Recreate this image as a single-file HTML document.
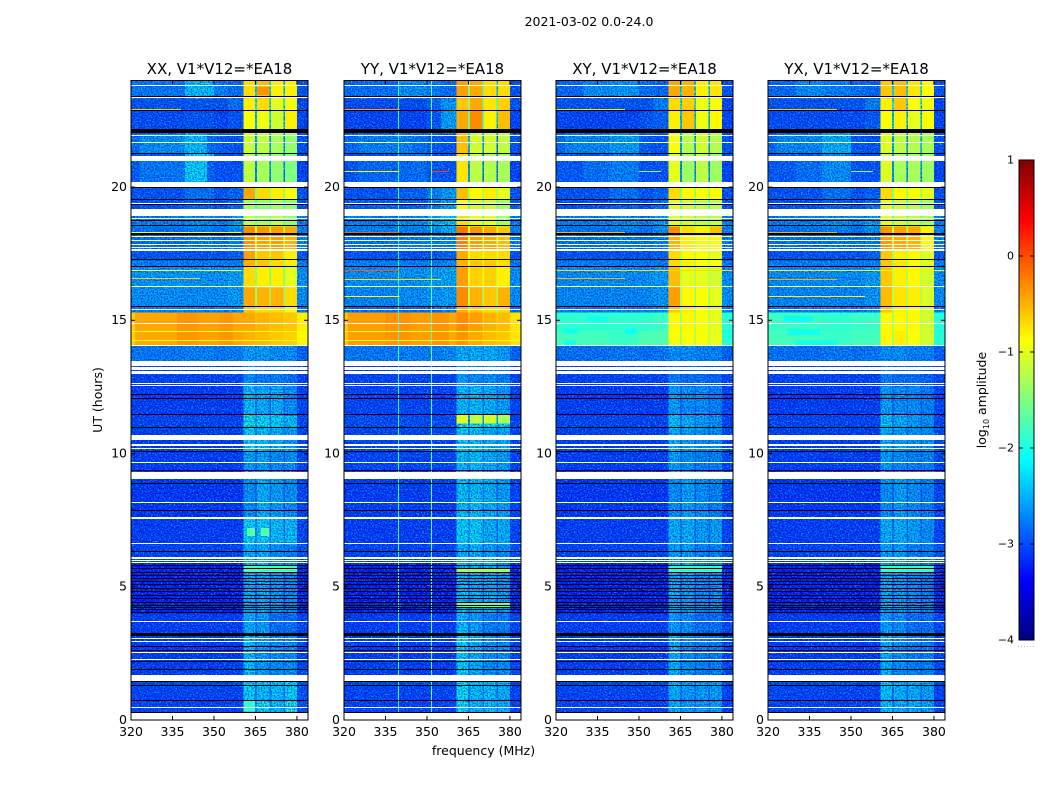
<!DOCTYPE html>
<html>
<head>
<meta charset="utf-8">
<title>2021-03-02 amplitude waterfall</title>
<style>
html,body{margin:0;padding:0;background:#fff;}
svg{display:block;font-family:"DejaVu Sans","Liberation Sans",sans-serif;}
text{fill:#000;}
</style>
</head>
<body>
<svg id="fig" xmlns="http://www.w3.org/2000/svg" width="1050" height="800" viewBox="0 0 1050 800">
<defs id="defs">
<filter id="speckle-light" x="0" y="0" width="100%" height="100%">
<feTurbulence type="fractalNoise" baseFrequency="0.62 0.75" numOctaves="1" seed="7"/>
<feColorMatrix type="matrix" values="0 0 0 0 0  0 0 0 0 0.85  0 0 0 0 0.9  3 0 0 0 -1.3"/>
</filter>
<filter id="speckle-dark" x="0" y="0" width="100%" height="100%">
<feTurbulence type="fractalNoise" baseFrequency="0.7 0.66" numOctaves="1" seed="23"/>
<feColorMatrix type="matrix" values="0 0 0 0 0  0 0 0 0 0  0 0 0 0 0.5  3 0 0 0 -1.15"/>
</filter>
</defs>
<rect x="0" y="0" width="1050" height="800" fill="#fff"/>
<text x="589" y="26" font-size="12.5" text-anchor="middle">2021-03-02 0.0-24.0</text>
<text x="483.5" y="755" font-size="12.5" text-anchor="middle">frequency (MHz)</text>
<text x="102" y="400" font-size="12.5" text-anchor="middle" transform="rotate(-90 102 400)">UT (hours)</text>
<text x="986" y="400" font-size="12.5" text-anchor="middle" transform="rotate(-90 986 400)">log<tspan font-size="8" dy="3">10</tspan><tspan dy="-3"> amplitude</tspan></text>
<g id="panels"></g>
<g id="colorbar"></g>
</svg>
<script>
// ---------- Data ----------
const panelTitles = ['XX, V1*V12=*EA18', 'YY, V1*V12=*EA18', 'XY, V1*V12=*EA18', 'YX, V1*V12=*EA18'];
const xTickLabels = [320, 335, 350, 365, 380];
const yTickLabels = [0, 5, 10, 15, 20];
const colorbarTicks = [1, 0, -1, -2, -3, -4];

// frequency column edges (MHz)
const freqEdges = [320, 339.5, 350, 355, 360.6, 364.9, 365.5, 370, 370.6, 375.1, 375.7, 380, 384];
// time band edges (UT hours), bottom to top
const utEdges = [0.27, 1.46, 3.15, 4.0, 5.88, 6.59, 7.56, 9.03, 10.07, 10.94, 11.46, 12.53, 13.47, 14.05, 14.6, 15.3, 15.5, 16.24, 17.0, 17.25, 17.62, 18.22, 18.53, 19.17, 19.53, 20.0, 21.25, 22.02, 22.17, 22.85, 23.33, 24];

// log10 amplitude: one row per time band, one value per frequency column
const xxValues = [
[-3.1,-3.1,-3.1,-3.1,-2.2,-2.7,-2.3,-2.8,-2.3,-2.8,-2.2,-3.0],
[-3.15,-3.15,-3.15,-3.15,-2.3,-2.8,-2.5,-3.0,-2.6,-3.0,-2.6,-3.1],
[-3.15,-3.15,-3.15,-3.15,-2.4,-2.8,-2.5,-3.0,-2.8,-3.0,-2.8,-3.1],
[-3.35,-3.35,-3.35,-3.35,-2.4,-2.9,-2.4,-3.1,-2.5,-3.1,-2.6,-3.3],
[-3.1,-3.1,-3.1,-3.1,-2.4,-2.8,-2.4,-3.0,-2.6,-3.0,-2.7,-3.0],
[-3.15,-3.15,-3.15,-3.15,-2.2,-2.7,-2.2,-2.8,-2.3,-2.8,-2.3,-3.1],
[-3.2,-3.2,-3.2,-3.2,-2.6,-2.9,-2.4,-2.9,-2.5,-3.0,-2.6,-3.1],
[-3.15,-3.15,-3.15,-3.15,-2.5,-2.9,-2.5,-3.0,-2.6,-3.0,-2.6,-3.1],
[-3.15,-3.15,-3.15,-3.15,-2.2,-2.8,-2.3,-2.8,-2.4,-2.9,-2.5,-3.1],
[-3.1,-3.1,-3.1,-3.1,-2.0,-2.6,-2.1,-2.7,-2.2,-2.7,-2.3,-3.1],
[-3.15,-3.15,-3.15,-3.15,-2.3,-2.8,-2.4,-2.9,-2.4,-2.9,-2.6,-3.1],
[-3.1,-3.1,-3.1,-3.1,-2.6,-2.9,-2.7,-2.9,-2.7,-2.9,-2.8,-3.1],
[-2.75,-2.7,-2.75,-2.7,-2.5,-2.7,-2.5,-2.7,-2.6,-2.7,-2.6,-2.9],
[-0.45,-0.42,-0.42,-0.45,-0.5,-0.55,-0.55,-0.6,-0.6,-0.65,-0.65,-0.85],
[-0.45,-0.42,-0.42,-0.45,-0.45,-0.55,-0.5,-0.6,-0.55,-0.65,-0.6,-0.8],
[-2.7,-2.7,-2.7,-2.6,-0.6,-1.4,-0.7,-1.4,-0.7,-1.5,-0.9,-2.7],
[-2.6,-2.6,-2.6,-2.5,-0.45,-1.4,-0.5,-1.4,-0.5,-1.5,-0.7,-2.6],
[-2.55,-2.55,-2.55,-2.5,-0.7,-1.5,-0.8,-1.6,-0.8,-1.6,-1.0,-2.6],
[-2.7,-2.7,-2.7,-2.7,-0.5,-1.3,-0.6,-1.4,-0.7,-1.4,-0.8,-2.7],
[-3.0,-3.0,-3.0,-2.9,-0.4,-1.2,-0.6,-1.3,-0.6,-1.3,-0.8,-3.0],
[-2.8,-2.7,-2.8,-2.7,-0.35,-1.0,-0.4,-1.0,-0.4,-1.0,-0.5,-2.7],
[-2.8,-2.7,-2.8,-2.6,-0.3,-1.2,-0.35,-1.2,-0.4,-1.2,-0.45,-2.7],
[-2.7,-2.6,-2.7,-2.5,-1.2,-1.6,-1.3,-1.7,-1.2,-1.7,-1.4,-2.7],
[-3.0,-2.9,-3.0,-2.8,-1.3,-1.8,-1.4,-1.8,-1.3,-1.8,-1.4,-3.0],
[-3.0,-2.8,-3.0,-2.9,-0.45,-1.5,-0.7,-1.5,-0.8,-1.5,-0.9,-3.0],
[-2.95,-2.2,-3.0,-3.0,-1.2,-2.6,-1.3,-2.6,-1.4,-2.6,-1.5,-3.1],
[-2.85,-2.3,-2.95,-3.0,-1.15,-2.5,-1.2,-2.5,-1.3,-2.5,-1.4,-3.0],
[-3.1,-2.8,-2.6,-2.5,-0.8,-1.6,-0.8,-1.6,-0.9,-1.6,-0.9,-3.1],
[-3.05,-3.0,-3.1,-3.0,-0.9,-2.3,-0.95,-2.3,-1.1,-2.3,-0.8,-3.1],
[-3.0,-3.0,-3.0,-2.8,-0.8,-2.0,-0.7,-2.0,-1.0,-2.0,-0.9,-3.1],
[-2.8,-2.3,-2.7,-2.8,-0.7,-2.2,-0.55,-2.2,-0.8,-2.2,-0.8,-3.0]
];
const yyValues = [
[-3.1,-3.1,-3.1,-3.1,-2.1,-2.7,-2.3,-2.8,-2.3,-2.8,-2.4,-3.1],
[-3.15,-3.15,-3.15,-3.15,-2.2,-2.8,-2.4,-3.0,-2.6,-3.0,-2.6,-3.1],
[-3.15,-3.15,-3.15,-3.15,-2.3,-2.8,-2.5,-3.0,-2.7,-3.0,-2.7,-3.1],
[-3.35,-3.35,-3.35,-3.35,-2.3,-2.8,-2.4,-3.0,-2.4,-3.0,-2.5,-3.3],
[-3.1,-3.1,-3.1,-3.1,-2.4,-2.8,-2.4,-3.0,-2.5,-3.0,-2.6,-3.0],
[-3.15,-3.15,-3.15,-3.15,-2.2,-2.6,-2.2,-2.8,-2.4,-2.8,-2.4,-3.1],
[-3.15,-3.15,-3.15,-3.15,-2.3,-2.7,-2.3,-2.8,-2.4,-2.9,-2.5,-3.1],
[-3.1,-3.1,-3.1,-3.1,-2.3,-2.7,-2.3,-2.8,-2.4,-2.8,-2.5,-3.1],
[-3.1,-3.1,-3.1,-3.1,-2.2,-2.7,-2.3,-2.8,-2.4,-2.8,-2.4,-3.1],
[-3.05,-3.05,-3.05,-3.05,-2.0,-2.5,-2.0,-2.5,-2.1,-2.5,-2.2,-3.1],
[-3.1,-3.1,-3.1,-3.1,-2.3,-2.7,-2.3,-2.8,-2.4,-2.8,-2.5,-3.1],
[-3.1,-3.1,-3.1,-3.1,-2.5,-2.8,-2.6,-2.9,-2.6,-2.9,-2.7,-3.1],
[-2.75,-2.7,-2.7,-2.65,-2.4,-2.6,-2.4,-2.6,-2.4,-2.5,-2.5,-2.9],
[-0.4,-0.4,-0.4,-0.45,-0.35,-0.5,-0.45,-0.6,-0.55,-0.65,-0.6,-0.75],
[-0.4,-0.4,-0.4,-0.45,-0.3,-0.5,-0.4,-0.6,-0.5,-0.65,-0.55,-0.75],
[-2.8,-2.8,-2.8,-2.7,-0.5,-1.2,-0.6,-1.3,-0.7,-1.3,-0.7,-2.8],
[-2.65,-2.6,-2.55,-2.5,-0.3,-1.2,-0.5,-1.3,-0.6,-1.3,-0.5,-2.6],
[-2.6,-2.55,-2.5,-2.45,-0.4,-1.0,-0.65,-1.0,-0.65,-1.0,-0.8,-2.6],
[-2.7,-2.7,-2.7,-2.6,-0.5,-1.0,-0.6,-1.0,-0.6,-1.0,-0.7,-2.7],
[-3.0,-3.0,-3.0,-2.9,-0.45,-0.9,-0.7,-1.0,-0.7,-1.0,-0.7,-3.0],
[-2.8,-2.7,-2.7,-2.65,-0.25,-0.9,-0.4,-0.9,-0.45,-0.9,-0.55,-2.7],
[-2.7,-2.7,-2.6,-2.4,-0.2,-1.0,-0.35,-1.0,-0.45,-1.0,-0.6,-2.7],
[-2.7,-2.6,-2.4,-2.3,-0.7,-1.4,-1.0,-1.7,-1.0,-1.7,-1.3,-2.7],
[-2.9,-2.9,-2.7,-2.5,-0.9,-1.6,-1.1,-1.7,-1.1,-1.7,-1.3,-2.9],
[-3.0,-2.9,-2.7,-2.5,-0.55,-1.3,-0.85,-1.4,-0.8,-1.4,-1.0,-3.0],
[-3.0,-2.8,-2.95,-3.0,-0.75,-2.5,-1.2,-2.7,-1.25,-2.7,-1.3,-3.1],
[-2.85,-2.8,-2.95,-3.0,-0.55,-2.3,-1.1,-2.6,-1.1,-2.6,-1.2,-3.0],
[-3.1,-2.9,-2.6,-2.5,-0.7,-1.5,-0.8,-1.5,-0.9,-1.5,-0.8,-3.1],
[-3.1,-3.1,-3.0,-2.5,-0.45,-1.6,-0.3,-1.8,-0.8,-2.0,-0.55,-3.1],
[-3.05,-3.05,-2.9,-2.55,-0.6,-1.4,-0.45,-1.6,-0.75,-1.8,-0.65,-3.0],
[-2.8,-2.6,-2.7,-2.8,-0.4,-1.5,-0.45,-1.7,-0.7,-2.0,-0.7,-3.0]
];
const xyValues = [
[-3.1,-3.1,-3.1,-3.1,-2.4,-2.8,-2.5,-2.9,-2.5,-2.9,-2.5,-3.1],
[-3.15,-3.15,-3.15,-3.15,-2.4,-2.9,-2.6,-3.0,-2.7,-3.0,-2.7,-3.1],
[-3.15,-3.15,-3.15,-3.15,-2.5,-2.9,-2.6,-3.0,-2.8,-3.0,-2.8,-3.1],
[-3.35,-3.35,-3.35,-3.35,-2.4,-2.9,-2.5,-3.1,-2.6,-3.1,-2.6,-3.3],
[-3.1,-3.1,-3.1,-3.1,-2.5,-2.9,-2.5,-3.0,-2.7,-3.0,-2.7,-3.0],
[-3.15,-3.15,-3.15,-3.15,-2.4,-2.8,-2.4,-2.9,-2.5,-2.9,-2.5,-3.1],
[-3.2,-3.2,-3.2,-3.2,-2.6,-2.9,-2.5,-3.0,-2.6,-3.0,-2.7,-3.1],
[-3.15,-3.15,-3.15,-3.15,-2.5,-2.9,-2.6,-3.0,-2.7,-3.0,-2.7,-3.1],
[-3.15,-3.15,-3.15,-3.15,-2.4,-2.9,-2.5,-2.9,-2.6,-2.9,-2.6,-3.1],
[-3.1,-3.1,-3.1,-3.1,-2.3,-2.8,-2.4,-2.8,-2.5,-2.8,-2.6,-3.1],
[-3.15,-3.15,-3.15,-3.15,-2.5,-2.9,-2.6,-2.9,-2.6,-2.9,-2.7,-3.1],
[-3.1,-3.1,-3.1,-3.1,-2.7,-2.9,-2.8,-2.9,-2.8,-2.9,-2.9,-3.1],
[-2.8,-2.75,-2.8,-2.75,-2.6,-2.7,-2.6,-2.7,-2.7,-2.7,-2.7,-2.9],
[-1.8,-1.85,-1.75,-1.75,-0.9,-1.3,-0.9,-1.3,-0.9,-1.3,-1.0,-1.95],
[-1.9,-1.9,-1.9,-1.85,-0.85,-1.3,-0.85,-1.3,-0.9,-1.3,-1.0,-1.95],
[-2.7,-2.7,-2.7,-2.6,-0.6,-1.3,-0.8,-1.4,-0.9,-1.4,-1.0,-2.7],
[-2.65,-2.65,-2.65,-2.55,-0.4,-1.3,-0.85,-1.4,-0.9,-1.4,-1.0,-2.6],
[-2.6,-2.6,-2.6,-2.5,-0.55,-1.2,-1.0,-1.3,-1.0,-1.3,-1.1,-2.6],
[-2.7,-2.7,-2.7,-2.7,-0.7,-1.3,-0.8,-1.3,-0.9,-1.3,-0.9,-2.7],
[-3.0,-3.0,-3.0,-2.9,-0.7,-1.3,-0.85,-1.3,-0.9,-1.3,-1.0,-3.0],
[-2.8,-2.75,-2.8,-2.7,-0.5,-1.1,-0.8,-1.2,-0.85,-1.2,-0.85,-2.7],
[-2.8,-2.7,-2.8,-2.6,-0.3,-1.2,-0.7,-1.2,-0.8,-1.2,-0.55,-2.7],
[-2.7,-2.6,-2.7,-2.5,-1.0,-1.6,-1.1,-1.7,-1.2,-1.7,-1.2,-2.7],
[-3.0,-2.9,-3.0,-2.8,-1.0,-1.7,-1.1,-1.8,-1.2,-1.8,-1.2,-3.0],
[-3.0,-2.8,-3.0,-2.9,-0.7,-1.5,-0.85,-1.5,-0.9,-1.5,-0.9,-3.0],
[-2.95,-2.7,-3.0,-3.0,-1.0,-2.6,-1.35,-2.6,-1.2,-2.6,-1.35,-3.1],
[-2.85,-2.5,-2.95,-3.0,-0.9,-2.5,-1.25,-2.5,-1.1,-2.5,-1.25,-3.0],
[-3.1,-2.9,-2.7,-2.5,-0.85,-1.6,-0.85,-1.6,-0.85,-1.6,-0.9,-3.1],
[-3.1,-3.1,-3.0,-2.9,-0.8,-2.3,-0.6,-2.3,-0.95,-2.3,-0.85,-3.1],
[-3.0,-3.0,-3.0,-2.7,-0.7,-2.0,-0.65,-2.0,-0.95,-2.0,-0.9,-3.1],
[-2.85,-2.55,-2.8,-2.85,-0.45,-2.2,-0.5,-2.2,-0.8,-2.2,-0.75,-3.0]
];
const yxValues = [
[-3.1,-3.1,-3.1,-3.1,-2.3,-2.8,-2.4,-2.9,-2.4,-2.9,-2.5,-3.1],
[-3.15,-3.15,-3.15,-3.15,-2.4,-2.9,-2.6,-3.0,-2.7,-3.0,-2.7,-3.1],
[-3.15,-3.15,-3.15,-3.15,-2.5,-2.9,-2.6,-3.0,-2.8,-3.0,-2.8,-3.1],
[-3.35,-3.35,-3.35,-3.35,-2.4,-2.9,-2.5,-3.1,-2.6,-3.1,-2.7,-3.3],
[-3.1,-3.1,-3.1,-3.1,-2.5,-2.9,-2.5,-3.0,-2.7,-3.0,-2.7,-3.0],
[-3.15,-3.15,-3.15,-3.15,-2.4,-2.8,-2.4,-2.9,-2.5,-2.9,-2.6,-3.1],
[-3.2,-3.2,-3.2,-3.2,-2.6,-2.9,-2.5,-3.0,-2.6,-3.0,-2.7,-3.1],
[-3.15,-3.15,-3.15,-3.15,-2.5,-2.9,-2.6,-3.0,-2.7,-3.0,-2.7,-3.1],
[-3.15,-3.15,-3.15,-3.15,-2.4,-2.9,-2.5,-2.9,-2.6,-2.9,-2.6,-3.1],
[-3.1,-3.1,-3.1,-3.1,-2.3,-2.8,-2.4,-2.8,-2.5,-2.8,-2.6,-3.1],
[-3.15,-3.15,-3.15,-3.15,-2.5,-2.9,-2.6,-2.9,-2.6,-2.9,-2.7,-3.1],
[-3.1,-3.1,-3.1,-3.1,-2.7,-2.9,-2.8,-2.9,-2.8,-2.9,-2.9,-3.1],
[-2.8,-2.75,-2.8,-2.75,-2.6,-2.7,-2.6,-2.7,-2.7,-2.7,-2.7,-2.9],
[-1.8,-1.85,-1.8,-1.8,-0.85,-1.3,-0.8,-1.3,-0.9,-1.3,-1.1,-1.95],
[-1.85,-1.9,-1.85,-1.85,-0.85,-1.3,-0.85,-1.3,-0.85,-1.3,-1.1,-1.95],
[-2.7,-2.7,-2.7,-2.6,-0.6,-1.3,-0.8,-1.4,-0.9,-1.4,-1.1,-2.7],
[-2.65,-2.65,-2.65,-2.55,-0.55,-1.2,-0.75,-1.3,-0.8,-1.3,-1.05,-2.6],
[-2.6,-2.6,-2.6,-2.5,-0.6,-1.2,-0.8,-1.3,-0.85,-1.3,-1.1,-2.6],
[-2.7,-2.7,-2.7,-2.7,-0.6,-1.3,-0.75,-1.3,-0.85,-1.3,-1.0,-2.7],
[-3.0,-3.0,-3.0,-2.9,-0.6,-1.3,-0.8,-1.3,-0.85,-1.3,-1.05,-3.0],
[-2.8,-2.75,-2.8,-2.7,-0.4,-1.1,-0.45,-1.2,-0.5,-1.2,-0.85,-2.7],
[-2.8,-2.7,-2.8,-2.6,-0.35,-1.2,-0.4,-1.2,-0.45,-1.2,-0.8,-2.7],
[-2.7,-2.6,-2.7,-2.5,-1.0,-1.6,-1.1,-1.7,-1.2,-1.7,-1.3,-2.7],
[-3.0,-2.9,-3.0,-2.8,-1.0,-1.7,-1.1,-1.8,-1.2,-1.8,-1.3,-3.0],
[-3.0,-2.8,-3.0,-2.9,-0.7,-1.5,-0.85,-1.5,-0.9,-1.5,-1.0,-3.0],
[-2.95,-2.6,-3.0,-3.0,-1.05,-2.6,-1.3,-2.6,-1.3,-2.6,-1.35,-3.1],
[-2.85,-2.4,-2.95,-3.0,-1.05,-2.5,-1.2,-2.5,-1.25,-2.5,-1.3,-3.0],
[-3.1,-2.8,-2.7,-2.5,-0.85,-1.6,-0.85,-1.6,-0.85,-1.6,-0.9,-3.1],
[-3.05,-3.05,-3.05,-2.95,-0.9,-2.3,-0.8,-2.3,-1.0,-2.3,-0.9,-3.1],
[-3.0,-3.0,-3.0,-2.7,-0.8,-2.0,-0.6,-2.0,-0.9,-2.0,-0.95,-3.1],
[-2.85,-2.7,-2.8,-2.85,-0.6,-2.2,-0.55,-2.2,-0.75,-2.2,-0.85,-3.0]
];

// localized regions per panel: [UT start, UT end, start MHz, end MHz, log10 amplitude]
const xxPatches = [
[0.31,0.72,360.6,364.9,-1.9],[0.31,0.72,365.5,370,-2.0],[0.31,0.72,375.7,380,-2.0],
[6.9,7.2,362,364.9,-1.7],[6.9,7.2,367,370,-1.7],[5.55,5.78,360.6,380,-1.8],
[14.05,15.3,336.6,344,-0.37],[14.05,15.3,352,357,-0.37],[14.05,15.3,320,321.5,-0.65],
[20.2,21.15,347.5,350,-2.85],[20.2,21.15,323,339.5,-2.75],
[21.25,22.02,323,339.5,-2.6],[21.25,22.02,347.5,352,-2.85],
[23.33,24,320,339.5,-2.75],[23.45,23.75,365.5,370,-0.35]
];
const yyPatches = [
[11.13,11.44,360.6,364.9,-1.05],[11.13,11.44,365.5,370,-1.2],[11.13,11.44,370.6,375.1,-1.1],[11.13,11.44,375.7,380,-1.3],
[5.55,5.7,360.6,380,-1.4],[4.25,4.4,360.6,380,-1.6],
[14.05,15.3,335,344,-0.35],[14.05,15.3,352,358,-0.35],[14.05,15.3,320,321.5,-0.6],
[21.25,22.02,325,345,-2.7],[20.2,21.15,325,345,-2.85]
];
const xyPatches = [
[5.55,5.78,360.6,380,-1.9],
[14.95,15.15,331,339,-2.05],[14.5,14.7,323,328,-2.05],[14.5,14.7,345,349,-2.1],[14.08,14.25,323,327,-2.05],
[21.25,22.02,323,339.5,-2.65],[20.2,21.15,330,339.5,-2.8],[23.33,24,330,339.5,-2.6]
];
const yxPatches = [
[5.55,5.78,360.6,380,-1.9],
[14.95,15.15,326,336,-2.1],[14.45,14.65,327,339,-2.05],[14.08,14.25,330,345,-2.05],
[21.25,22.02,323,339.5,-2.65],[20.2,21.15,330,339.5,-2.8],[23.33,24,330,339.5,-2.6]
];

// narrow RFI streaks per panel: [UT, start MHz, end MHz, log10 amplitude]
const xxStreaks = [[22.93,320,338,-0.6],[18.3,320,360,-0.85],[16.87,320,360,-0.95],[16.57,320,345,-0.6],[14.6,320,384,-0.9],[14.25,320,384,-0.95]];
const yyStreaks = [[22.93,320,340,-0.4],[20.6,320,340,-0.8],[20.6,352,358,0.05],[18.3,320,340,-0.1],[16.9,320,340,-0.05],[16.55,320,355,-0.7],[15.9,320,340,-0.85],[14.6,320,384,-0.9],[14.25,320,384,-0.95]];
const xyStreaks = [[22.93,320,345,-0.75],[20.6,350,358,-1.5],[18.3,320,345,-0.5],[16.87,320,384,-0.7],[16.57,320,345,-0.5]];
const yxStreaks = [[22.93,320,345,-0.6],[20.6,350,358,-1.5],[18.3,320,345,-0.45],[16.87,320,384,-0.8],[16.55,320,345,-0.45],[15.9,320,355,-0.8]];

// constant interference channels: [MHz, log10 amplitude]
const xxChannels = [];
const yyChannels = [[339.5,-1.9],[351.3,-1.7]];
const xyChannels = [];
const yxChannels = [];

// flagged time ranges, shared by all panels (UT hours)
const whiteLines = [23.775,23.325,21.9,21.65,19.376,18.79,18.12,17.97,17.82,17.7,17.62,16.24,15.375,14.875,14.05,12.6,12.525,10.3,10.17,9.66,8.13,7.56,6.59,5.95,5.88,3.66,3.04,2.91,2.5,2.26,0.46];
const whiteBlocks = [[20.97,21.15],[20.0,20.2],[18.9,19.17],[13.3,13.47],[13.15,13.23],[13.0,13.1],[10.5,10.68],[9.03,9.3],[6.04,6.12],[1.46,1.69],[0,0.27]];
const blackLines = [23.36,22.85,21.25,19.95,19.53,19.31,18.72,18.53,18.22,17.25,17.0,15.5,12.18,12.04,11.46,10.94,10.07,9.35,8.85,7.84,6.31,5.775,5.65,5.52,5.4,5.3,5.19,5.05,4.92,4.8,4.65,4.53,4.38,4.275,4.19,4.125,4.02,2.75,2.6,2.19,1.875,1.44,1.29,0.72];
const blackBlocks = [[22.02,22.17],[3.15,3.25],[0.27,0.31]];

const panelValues = [xxValues, yyValues, xyValues, yxValues];
const panelPatches = [xxPatches, yyPatches, xyPatches, yxPatches];
const panelStreaks = [xxStreaks, yyStreaks, xyStreaks, yxStreaks];
const panelChannels = [xxChannels, yyChannels, xyChannels, yxChannels];

// ---------- Layout & scales ----------
const NS = 'http://www.w3.org/2000/svg';
const panelLeft = [131, 344, 556, 768];
const plotWidth = 177, plotTop = 80.5, plotBottom = 720;
const freqMin = 320, freqMax = 384, utMax = 24;
const lineThickness = 0.04;
const speckleCeiling = -1.97;

function xScale(left, f) { return left + (f - freqMin) / (freqMax - freqMin) * plotWidth; }
function yScale(h) { return plotBottom - h / utMax * (plotBottom - plotTop); }
function clip(v) { return Math.max(0, Math.min(1, v)); }
function jet(t) {
  const r = clip(1.5 - Math.abs(4 * t - 3));
  const g = clip(1.5 - Math.abs(4 * t - 2));
  const b = clip(1.5 - Math.abs(4 * t - 1));
  return 'rgb(' + Math.round(r * 255) + ',' + Math.round(g * 255) + ',' + Math.round(b * 255) + ')';
}
function colorScale(v) { return jet((v + 4) / 5); }
function svgEl(tag, attrs, parent) {
  const el = document.createElementNS(NS, tag);
  for (const k in attrs) el.setAttribute(k, attrs[k]);
  parent.appendChild(el);
  return el;
}

// ---------- Panels ----------
const panelsRoot = document.getElementById('panels');
const defsRoot = document.getElementById('defs');
panelTitles.forEach(function (title, p) {
  const left = panelLeft[p];
  const right = left + plotWidth;
  const key = title.slice(0, 2).toLowerCase();

  const g = svgEl('g', {}, panelsRoot);
  
  

  const titleEl = svgEl('text', { x: left + plotWidth / 2, y: 74, 'font-size': 15, 'text-anchor': 'middle' }, g);
  
  
  titleEl.textContent = title;

  const heat = svgEl('g', { 'shape-rendering': 'crispEdges' }, g);
  
  

  const quiet = svgEl('clipPath', { id: 'quiet-' + key }, defsRoot);

  panelValues[p].forEach(function (row, r) {
    row.forEach(function (v, c) {
      const x0 = xScale(left, freqEdges[c]);
      const x1 = xScale(left, freqEdges[c + 1]);
      const y0 = yScale(utEdges[r + 1]);
      const y1 = yScale(utEdges[r]);
      const cell = svgEl('rect', { x: x0, y: y0, width: x1 - x0, height: y1 - y0, fill: colorScale(v) }, heat);
      
      
      if (v < speckleCeiling) {
        svgEl('rect', { x: x0, y: y0, width: x1 - x0, height: y1 - y0 }, quiet);
      }
    });
  });

  function addPatch(s, parent) {
    const x0 = xScale(left, s[2]);
    const x1 = xScale(left, s[3]);
    const y0 = yScale(s[1]);
    const y1 = yScale(s[0]);
    const patch = svgEl('rect', { x: x0, y: y0, width: x1 - x0, height: y1 - y0, fill: colorScale(s[4]) }, parent);
    
    
  }
  panelPatches[p].forEach(function (s) {
    if (s[4] < speckleCeiling) addPatch(s, heat);
  });

  const texture = svgEl('g', { 'clip-path': 'url(#quiet-' + key + ')' }, g);
  
  
  const lightSpeck = svgEl('rect', { x: left, y: plotTop, width: plotWidth, height: plotBottom - plotTop, filter: 'url(#speckle-light)', opacity: 0.75 }, texture);
  
  
  const darkSpeck = svgEl('rect', { x: left, y: plotTop, width: plotWidth, height: plotBottom - plotTop, filter: 'url(#speckle-dark)', opacity: 0.6 }, texture);
  
  

  const rfi = svgEl('g', { 'shape-rendering': 'crispEdges' }, g);
  
  

  panelPatches[p].forEach(function (s) {
    if (s[4] >= speckleCeiling) addPatch(s, rfi);
  });

  panelChannels[p].forEach(function (ch) {
    const line = svgEl('rect', { x: Math.round(xScale(left, ch[0])), y: yScale(utMax), width: 1, height: yScale(utEdges[0]) - yScale(utMax), fill: colorScale(ch[1]) }, rfi);
    
    
  });

  panelStreaks[p].forEach(function (s) {
    const x0 = xScale(left, s[1]);
    const x1 = xScale(left, s[2]);
    const streak = svgEl('rect', { x: x0, y: Math.round(yScale(s[0])), width: x1 - x0, height: 1, fill: colorScale(s[3]) }, rfi);
    
    
  });

  const flags = svgEl('g', { 'shape-rendering': 'crispEdges' }, g);
  
  

  function addFlag(h0, h1, color, name) {
    const y0 = Math.round(yScale(h1));
    const y1 = Math.round(yScale(h0));
    const flag = svgEl('rect', { x: left, y: y0, width: plotWidth, height: Math.max(1, y1 - y0), fill: color }, flags);
    
    
  }
  blackLines.forEach(function (h) { addFlag(h, h + lineThickness, '#000', 'no-signal-row'); });
  blackBlocks.forEach(function (b) { addFlag(b[0], b[1], '#000', 'no-signal-block'); });
  whiteLines.forEach(function (h) { addFlag(h, h + lineThickness, '#fff', 'flagged-row'); });
  whiteBlocks.forEach(function (b) { addFlag(b[0], b[1], '#fff', 'flagged-block'); });

  const frame = svgEl('rect', { x: left, y: plotTop, width: plotWidth, height: plotBottom - plotTop, fill: 'none', stroke: '#000', 'stroke-width': 1 }, g);
  
  

  xTickLabels.forEach(function (f) {
    const x = xScale(left, f);
    const tb = svgEl('line', { x1: x, x2: x, y1: plotBottom, y2: plotBottom - 4, stroke: '#000' }, g);
    
    
    const tt = svgEl('line', { x1: x, x2: x, y1: plotTop, y2: plotTop + 4, stroke: '#000' }, g);
    
    
    const lb = svgEl('text', { x: x, y: 736, 'font-size': 12.5, 'text-anchor': 'middle' }, g);
    
    
    lb.textContent = f;
  });

  yTickLabels.forEach(function (h) {
    const y = yScale(h);
    const tl = svgEl('line', { x1: left, x2: left + 4, y1: y, y2: y, stroke: '#000' }, g);
    
    
    const tr = svgEl('line', { x1: right, x2: right - 4, y1: y, y2: y, stroke: '#000' }, g);
    
    
    const lb = svgEl('text', { x: left - 4, y: y + 3.8, 'font-size': 12.5, 'text-anchor': 'end' }, g);
    
    
    lb.textContent = h;
  });
});

// ---------- Colorbar ----------
const cbRoot = document.getElementById('colorbar');
const cbLeft = 1019, cbWidth = 15, cbTop = 160, cbBottom = 640;
const cbMin = -4, cbMax = 1;
function cbY(v) { return cbBottom - (v - cbMin) / (cbMax - cbMin) * (cbBottom - cbTop); }

const ramp = svgEl('g', { 'shape-rendering': 'crispEdges' }, cbRoot);


for (let py = cbTop; py < cbBottom; py += 2) {
  const swatch = svgEl('rect', { x: cbLeft, y: py, width: cbWidth, height: 2, fill: jet((cbBottom - py - 1) / (cbBottom - cbTop)) }, ramp);
  
  
}
const cbFrame = svgEl('rect', { x: cbLeft, y: cbTop, width: cbWidth, height: cbBottom - cbTop, fill: 'none', stroke: '#000' }, cbRoot);



colorbarTicks.forEach(function (v) {
  const y = cbY(v);
  const t1 = svgEl('line', { x1: cbLeft, x2: cbLeft + 4, y1: y, y2: y, stroke: '#000' }, cbRoot);
  
  
  const t2 = svgEl('line', { x1: cbLeft + cbWidth, x2: cbLeft + cbWidth - 4, y1: y, y2: y, stroke: '#000' }, cbRoot);
  
  
  const lb = svgEl('text', { x: cbLeft - 5, y: y + 3.5, 'font-size': 11, 'text-anchor': 'end' }, cbRoot);
  
  
  lb.textContent = String(v).replace('-', '\u2212');
});

const dots = svgEl('text', { x: cbLeft + cbWidth / 2, y: 647, 'font-size': 6, 'text-anchor': 'middle', 'letter-spacing': 1 }, cbRoot);


dots.setAttribute('style', 'fill:#777');
dots.textContent = '......';
</script>
</body>
</html>
